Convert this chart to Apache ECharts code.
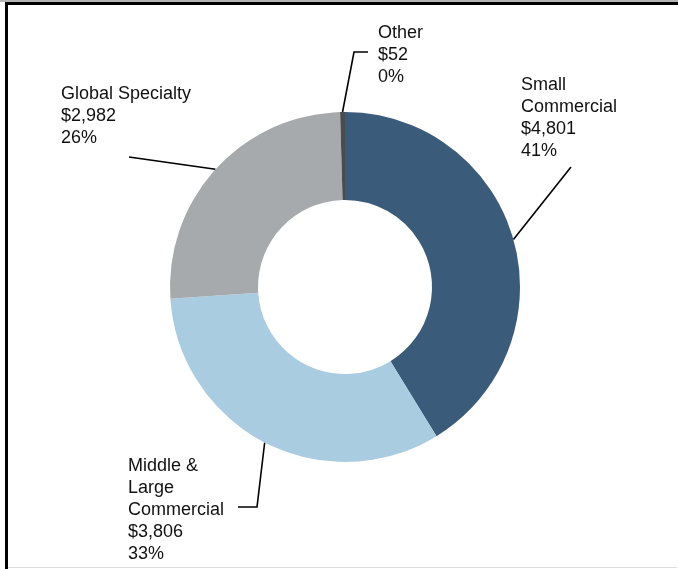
<!DOCTYPE html>
<html>
<head>
<meta charset="utf-8">
<script src="https://cdn.jsdelivr.net/npm/echarts@6/dist/echarts.min.js"></script>
<style>
html,body{margin:0;padding:0;background:#fff;}
#chart{width:678px;height:569px;}
</style>
</head>
<body>
<div id="chart"></div>
<script>
// ---- data ----
const categories = ['Small\nCommercial', 'Middle &\nLarge\nCommercial', 'Global Specialty', 'Other'];
const values = [4801, 3806, 2982, 52];
const colors = ['#3a5b79', '#a9cce1', '#a7aaac', '#4a4d50'];

// ---- label layout (positions only) ----
// x,y = top-left of label block; bend/end = leader line points after the slice edge
const labelPos = [
  { x: 521, y: 74,  pts: [[571, 167]] },
  { x: 128, y: 455, pts: [[257, 507], [238, 507]] },
  { x: 61,  y: 83,  pts: [[129, 157]] },
  { x: 378, y: 22,  pts: [[354, 52], [368, 52]] }
];

const chart = echarts.init(document.getElementById('chart'), null, { renderer: 'canvas' });

const option = {
  animation: false,
  backgroundColor: '#ffffff',
  textStyle: { fontFamily: 'Liberation Sans, Arial, sans-serif' },
  graphic: [
    { type: 'rect', shape: { x: 0, y: 0, width: 678, height: 2 }, style: { fill: '#b4b4b4' }, silent: true },
    { type: 'rect', shape: { x: 5, y: 2, width: 673, height: 3 }, style: { fill: '#000' }, silent: true },
    { type: 'rect', shape: { x: 5, y: 2, width: 3, height: 567 }, style: { fill: '#000' }, silent: true },
    { type: 'rect', shape: { x: 8, y: 567, width: 669, height: 1 }, style: { fill: '#dcdcdc' }, silent: true }
  ],
  series: [{
    type: 'pie',
    center: [345, 287],
    radius: [87, 175],
    startAngle: 90,
    clockwise: true,
    percentPrecision: 0,
    color: colors,
    data: categories.map((n, i) => ({ name: n, value: values[i] })),
    label: {
      show: true,
      position: 'outside',
      formatter: p => p.name + '\n$' + p.value.toLocaleString('en-US') + '\n' + p.percent + '%',
      fontSize: 18,
      lineHeight: 22,
      color: '#111',
      fontFamily: 'Liberation Sans, Arial, sans-serif',
      align: 'left'
    },
    labelLine: {
      show: true,
      length: 10,
      length2: 10,
      lineStyle: { color: '#000', width: 1.6 }
    },
    labelLayout: function (params) {
      const lp = labelPos[params.dataIndex];
      const start = params.labelLinePoints ? params.labelLinePoints[0] : lp.pts[0];
      const pts = [start].concat(lp.pts);
      if (pts.length === 2) pts.push(lp.pts[0]);
      return {
        x: lp.x,
        y: lp.y,
        align: 'left',
        verticalAlign: 'top',
        labelLinePoints: pts
      };
    },
    emphasis: { disabled: true }
  }]
};
chart.setOption(option);
</script>
</body>
</html>
